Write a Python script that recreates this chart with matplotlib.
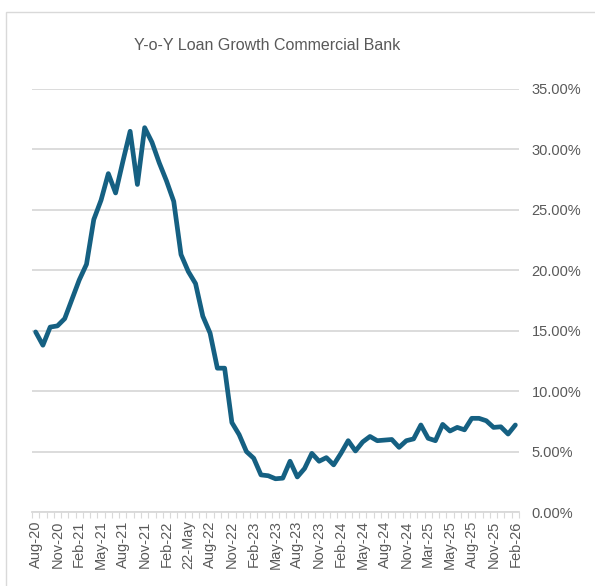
import matplotlib
matplotlib.use("Agg")
import matplotlib.pyplot as plt
from matplotlib.patches import Rectangle
from matplotlib.ticker import FixedLocator, FuncFormatter

# Year-on-year loan growth, commercial banks, monthly Aug-20 .. Feb-26 (percent)
growth = [
    14.9, 13.8, 15.3, 15.4, 16.0, 17.6, 19.2, 20.5, 24.2, 25.8,
    28.0, 26.4, 29.0, 31.5, 27.1, 31.8, 30.6, 28.9, 27.4, 25.7,
    21.3, 19.9, 18.9, 16.2, 14.8, 11.9, 11.9, 7.4, 6.4, 5.0,
    4.45, 3.07, 3.0, 2.75, 2.8, 4.2, 2.9, 3.6, 4.85, 4.2,
    4.5, 3.9, 4.85, 5.9, 5.05, 5.8, 6.25, 5.9, 5.95, 6.0,
    5.35, 5.9, 6.05, 7.2, 6.1, 5.9, 7.25, 6.7, 7.0, 6.8,
    7.75, 7.75, 7.55, 7.0, 7.05, 6.45, 7.2,
]

# Category-axis labels, shown on every third month
tick_labels = [
    "Aug-20", "Nov-20", "Feb-21", "May-21", "Aug-21", "Nov-21", "Feb-22",
    "22-May", "Aug-22", "Nov-22", "Feb-23", "May-23", "Aug-23", "Nov-23",
    "Feb-24", "May-24", "Aug-24", "Nov-24", "Mar-25", "May-25", "Aug-25",
    "Nov-25", "Feb-26",
]

y_ticks = [0, 5, 10, 15, 20, 25, 30, 35]

LINE = "#156082"
GRID = "#d9d9d9"
TEXT = "#595959"
FONT = "Liberation Sans"

W, H = 595, 586
fig = plt.figure(figsize=(W / 100, H / 100), dpi=100)
fig.patch.set_facecolor("white")

# chart-area frame
fig.patches.append(Rectangle((6 / W, -0.1), 1.2, 1 - 12 / H + 0.1,
                             transform=fig.transFigure, fill=False,
                             edgecolor="#d9d9d9", linewidth=1.0))

ax = fig.add_axes([32 / W, 1 - 512 / H, (519 - 32) / W, (512 - 89) / H])

x = list(range(len(growth)))
ax.plot(x, growth, color=LINE, linewidth=3.4, solid_joinstyle="round",
        solid_capstyle="round", zorder=3)

ax.set_xlim(-0.5, len(growth) - 0.5)
ax.set_ylim(0, 35)

# gridlines
ax.set_yticks(y_ticks)
ax.yaxis.grid(True, color=GRID, linewidth=1.3)
ax.set_axisbelow(True)
ax.yaxis.tick_right()
ax.yaxis.set_major_formatter(FuncFormatter(lambda v, p: f"{v:.2f}%"))
ax.tick_params(axis="y", length=0, pad=9, labelsize=10.5, labelcolor=TEXT)
for lab in ax.get_yticklabels():
    lab.set_fontfamily(FONT)

# category labels and boundary tick marks
label_pos = x[::3]
ax.set_xticks(label_pos)
ax.set_xticklabels(tick_labels, rotation=90, fontsize=10.5, color=TEXT,
                   family=FONT)
ax.tick_params(axis="x", which="major", length=0, pad=6)
ax.xaxis.set_minor_locator(FixedLocator([i - 0.5 for i in range(len(growth) + 1)]))
ax.tick_params(axis="x", which="minor", length=4, width=0.8, color=GRID,
               direction="out")

for side in ("top", "left", "right"):
    ax.spines[side].set_visible(False)
ax.spines["bottom"].set_color(GRID)
ax.spines["bottom"].set_linewidth(1.3)

fig.text(267 / W, 1 - 45 / H, "Y-o-Y Loan Growth Commercial Bank",
         ha="center", va="center", fontsize=11.5, color=TEXT, family=FONT)

fig.savefig("out.png", dpi=100)
